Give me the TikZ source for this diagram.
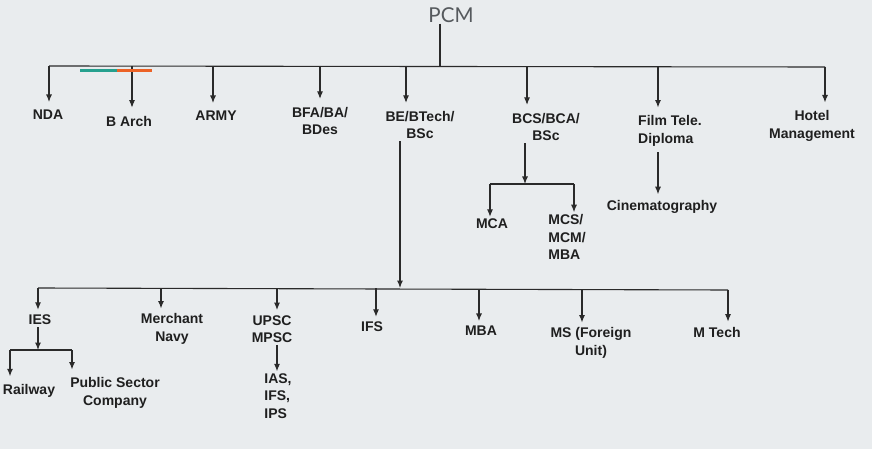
\documentclass[tikz,border=0pt]{standalone}
\usepackage{fontspec}
\setmainfont{Liberation Sans}
\newfontfamily\pcmfont{Lato}
\usepackage{xcolor}
\usepackage{tikz}
\usetikzlibrary{arrows.meta, positioning}

\definecolor{bgpage}{HTML}{E9ECEE}
\definecolor{lineink}{HTML}{2A2A2A}
\definecolor{pcmgray}{HTML}{55595D}
\definecolor{barteal}{HTML}{26A08E}
\definecolor{barorange}{HTML}{EC6226}

\tikzset{
  lbl/.style={font=\bfseries\fontsize{14}{17.5}\selectfont, text=black!88, inner sep=2pt, align=center},
  link/.style={draw=lineink, line width=1.1pt},
  drop/.style={link, ->, shorten >=6pt},
}

\begin{document}
\begin{tikzpicture}[x=1pt, y=-1pt, >={Latex[length=7.5pt,width=6pt]}]
    % page
    \fill[bgpage] (0,0) rectangle (872,449);
    \useasboundingbox (0,0) rectangle (872,449);

    % top
    \node[font=\pcmfont\fontsize{20.5}{20}\selectfont, text=pcmgray, inner sep=1pt] (pcm) at (451,15) {PCM};
    \coordinate (pcmdrop) at (440,66);
    \draw[link] (pcmdrop |- pcm.south) -- (pcmdrop);

    % first row
    \node[lbl] (nda)   at (48,115)  {NDA};
    \node[lbl] (barch) at (129,121) {B Arch};
    \node[lbl] (army)  at (216,116) {ARMY};
    \node[lbl] (bfa)   at (320,121) {BFA/BA/\\BDes};
    \node[lbl] (be)    at (420,125) {BE/BTech/\\BSc};
    \node[lbl] (bcs)   at (546,127) {BCS/BCA/\\BSc};
    \node[lbl, align=left] (film) at (670,131) {Film Tele.\\Diploma};
    \node[lbl] (hotel) at (812,126) {Hotel\\Management};

    \coordinate (tnda)   at (49,66);
    \coordinate (tbarch) at (132,66);
    \coordinate (tarmy)  at (213,66);
    \coordinate (tbfa)   at (320,66);
    \coordinate (tbe)    at (406,66);
    \coordinate (tbcs)   at (527,67);
    \coordinate (tfilm)  at (658,67);
    \coordinate (thotel) at (825,67);

    \draw[link] (tnda) -- (thotel);
    \foreach \n in {nda, barch, army, bfa, be, bcs, film, hotel}
        \draw[drop] (t\n) -- (t\n |- \n.north);

    % colour bar under the line
    \draw[barteal, line width=3pt] (80,71) -- (117,71);
    \draw[barorange, line width=3pt] (117,71) -- (152,71);

    % BCS branch
    \node[lbl] (mca) at (492,224) {MCA};
    \node[lbl, align=left] (mcs) at (567,237) {MCS/\\MCM/\\MBA};
    \coordinate (bcsmid) at (525,184);
    \coordinate (tmca) at (490,184);
    \coordinate (tmcs) at (574,184);
    \draw[link, ->] (bcsmid |- bcs.south) -- (bcsmid);
    \draw[link] (tmca) -- (tmcs);
    \draw[link, ->] (tmca) -- (tmca |- mca.north);
    \draw[link, ->] (tmcs) -- (tmcs |- mcs.north);

    % Film branch
    \node[lbl] (cine) at (662,207) {Cinematography};
    \coordinate (tcine) at (658,0);
    \draw[link, ->, shorten <=4pt, shorten >=4pt] (tcine |- film.south) -- (tcine |- cine.north);

    % second row
    \node[lbl] (ies)      at (40,320)  {IES};
    \node[lbl] (merchant) at (172,329) {Merchant\\Navy};
    \node[lbl] (upsc)     at (272,329) {UPSC\\MPSC};
    \node[lbl] (ifs)      at (372,327) {IFS};
    \node[lbl] (mba)      at (481,331) {MBA};
    \node[lbl] (ms)       at (591,343) {MS (Foreign\\Unit)};
    \node[lbl] (mtech)    at (717,332) {M Tech};

    \coordinate (bedrop)    at (400,288);
    \coordinate (ties)      at (38,288);
    \coordinate (tmerchant) at (161,288);
    \coordinate (tupsc)     at (277,288);
    \coordinate (tifs)      at (376,288);
    \coordinate (tmba)      at (479,289);
    \coordinate (tms)       at (582,289);
    \coordinate (tmtech)    at (728,290);

    \draw[link, ->] (bedrop |- be.south) -- (bedrop);
    \draw[link] (ties) -- (tmtech);
    \foreach \n in {ies, merchant, upsc, ifs, mba, ms, mtech}
        \draw[drop, shorten >=3pt] (t\n) -- (t\n |- \n.north);

    % IES branch
    \node[lbl] (railway) at (29,391)  {Railway};
    \node[lbl] (psc)     at (115,393) {Public Sector\\Company};
    \coordinate (iesmid)   at (38,350);
    \coordinate (trailway) at (10,350);
    \coordinate (tpsc)     at (72,350);
    \draw[link, ->] (iesmid |- ies.south) -- (iesmid);
    \draw[link] (trailway) -- (tpsc);
    \draw[drop] (trailway) -- (trailway |- railway.north);
    \draw[drop] (tpsc) -- (tpsc |- psc.north);

    % UPSC branch
    \node[lbl, align=left] (ias) at (278,396) {IAS,\\IFS,\\IPS};
    \coordinate (tias) at (277,0);
    \draw[link, ->] (tias |- upsc.south) -- (tias |- ias.north);
\end{tikzpicture}
\end{document}
